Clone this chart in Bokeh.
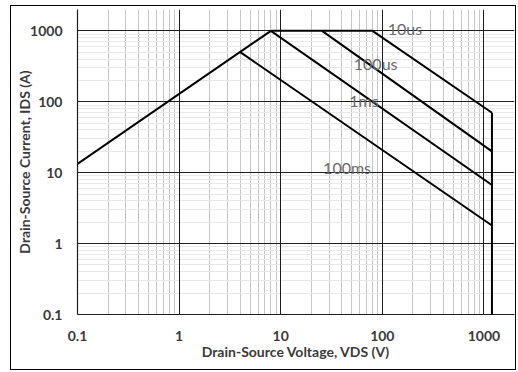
from bokeh.plotting import figure
from bokeh.models import Range1d, FixedTicker, Grid, InlineStyleSheet
from bokeh.core.properties import value
from bokeh.embed import file_html
from bokeh.resources import INLINE

# Safe operating area boundaries: drain-source voltage (V) vs current (A)
rds_v = [0.1, 8]
rds_i = [13.3, 1000]
ilim_v = [8, 80]
ilim_i = [1000, 1000]
t10us_v = [80, 1200]
t10us_i = [1000, 70]
t100us_v = [25.5, 1200]
t100us_i = [1000, 20]
t1ms_v = [8, 1200]
t1ms_i = [1000, 6.7]
t100ms_v = [4, 1200]
t100ms_i = [500, 1.8]
vmax_v = [1200, 1200]
vmax_i = [70, 0.1]

# Pulse-width labels and their anchor points (V, A)
pulse_text = ["10us", "100us", "1ms", "100ms"]
pulse_v = [167, 86, 66, 45]
pulse_i = [1070, 343, 103, 11.7]

# Decade ticks
tick_vals = [0.1, 1, 10, 100, 1000]
tick_text = ["0.1", "1", "10", "100", "1000"]
minor_vals = [m * d for d in [0.1, 1, 10, 100, 1000] for m in range(2, 10)]

FONT = "Lato"
TEXT_COLOR = "#3a3a3a"

# canvas margins around the plotting frame
BL, BR, BT, BB = 77, 4, 9, 58
W, H = 518, 372

# thin black frame around the whole chart
frame_css = InlineStyleSheet(css="""
:host { position: relative; }
:host::after {
  content: "";
  display: block;
  position: absolute;
  left: 10px; top: 5px;
  width: 506px; height: 365px;
  box-sizing: border-box;
  border: 1.5px solid #000;
  pointer-events: none;
  z-index: 10;
}
""")

p = figure(
    width=W, height=H,
    x_axis_type="log", y_axis_type="log",
    x_range=Range1d(0.1, 2000), y_range=Range1d(0.1, 2000),
    output_backend="svg", toolbar_location=None,
    min_border_left=BL, min_border_right=BR,
    min_border_top=BT, min_border_bottom=BB,
    stylesheets=[frame_css],
)
p.outline_line_color = None
p.background_fill_color = "white"
p.border_fill_color = "white"

# minor grid (drawn first, underneath)
p.xgrid.ticker = FixedTicker(ticks=minor_vals)
p.xgrid.grid_line_color = "#c6c6c6"
p.xgrid.grid_line_width = 1
p.ygrid.ticker = FixedTicker(ticks=minor_vals)
p.ygrid.grid_line_color = "#e8e8e8"
p.ygrid.grid_line_width = 1

# major decade grid
p.add_layout(Grid(dimension=0, ticker=FixedTicker(ticks=tick_vals),
                  grid_line_color="#1e1e1e", grid_line_width=1), "center")
p.add_layout(Grid(dimension=1, ticker=FixedTicker(ticks=tick_vals),
                  grid_line_color="#1e1e1e", grid_line_width=1), "center")

overrides = dict(zip(tick_vals, tick_text))
for ax in (p.xaxis[0], p.yaxis[0]):
    ax.ticker = FixedTicker(ticks=tick_vals, minor_ticks=[])
    ax.major_label_overrides = overrides
    ax.major_tick_in = 0
    ax.major_tick_out = 0
    ax.minor_tick_in = 0
    ax.minor_tick_out = 0
    ax.axis_line_color = "#1e1e1e"
    ax.axis_line_width = 1.2
    ax.major_label_text_font = FONT
    ax.major_label_text_font_style = "bold"
    ax.major_label_text_font_size = "14px"
    ax.major_label_text_color = TEXT_COLOR
    ax.axis_label_text_font = FONT
    ax.axis_label_text_font_style = "bold"
    ax.axis_label_text_font_size = "14px"
    ax.axis_label_text_color = TEXT_COLOR

p.xaxis.axis_label = "Drain-Source Voltage, VDS (V)"
p.yaxis.axis_label = "Drain-Source Current, IDS (A)"
p.xaxis.major_label_standoff = 16
p.xaxis.axis_label_standoff = -1
p.yaxis.major_label_standoff = 15
p.yaxis.axis_label_standoff = -6

# SOA curves
for xs, ys in [(rds_v, rds_i), (ilim_v, ilim_i), (t10us_v, t10us_i),
               (t100us_v, t100us_i), (t1ms_v, t1ms_i),
               (t100ms_v, t100ms_i), (vmax_v, vmax_i)]:
    p.line(xs, ys, line_color="black", line_width=2)

p.text(x=pulse_v, y=pulse_i, text=pulse_text,
       text_font=value(FONT), text_font_size="16px", text_color="#6a6a6a",
       text_align="center", text_baseline="middle")

open("out.html", "w").write(file_html(p, INLINE))
